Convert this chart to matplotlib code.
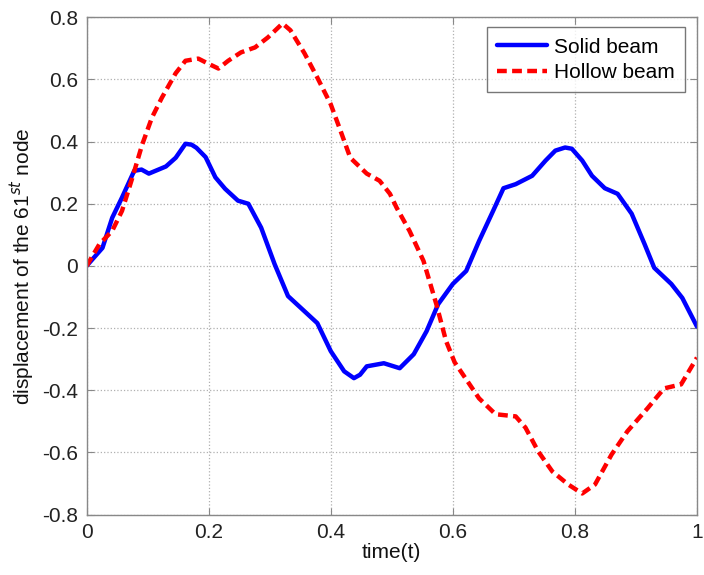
import numpy as np
import matplotlib
matplotlib.use("Agg")
import matplotlib.pyplot as plt

plt.rcParams['font.family'] = ['Liberation Sans', 'DejaVu Sans']

# values
t_solid = [0.0, 0.026, 0.042, 0.058, 0.078, 0.09, 0.102, 0.13, 0.146, 0.162, 0.172, 0.18,
           0.195, 0.211, 0.227, 0.248, 0.265, 0.286, 0.308, 0.33, 0.351, 0.378,
           0.4, 0.422, 0.438, 0.448, 0.459, 0.487, 0.513, 0.536, 0.557, 0.576, 0.6,
           0.622, 0.643, 0.666, 0.683, 0.703, 0.73, 0.752, 0.768, 0.784, 0.795,
           0.812, 0.828, 0.849, 0.87, 0.893, 0.914, 0.93, 0.958, 0.976, 1.0]
y_solid = [0.0, 0.058, 0.155, 0.22, 0.306, 0.31, 0.297, 0.32, 0.348, 0.393, 0.39, 0.38,
           0.35, 0.285, 0.248, 0.21, 0.2, 0.123, 0.006, -0.097, -0.135, -0.184,
           -0.274, -0.339, -0.361, -0.35, -0.323, -0.313, -0.329, -0.284, -0.21, -0.123, -0.058,
           -0.016, 0.08, 0.177, 0.25, 0.263, 0.29, 0.339, 0.371, 0.381, 0.377,
           0.339, 0.29, 0.25, 0.232, 0.168, 0.071, -0.006, -0.058, -0.103, -0.195]

t_hollow = [0.0, 0.021, 0.042, 0.058, 0.075, 0.091, 0.107, 0.123, 0.146, 0.162,
            0.183, 0.2, 0.216, 0.232, 0.253, 0.276, 0.297, 0.321, 0.334, 0.357,
            0.378, 0.4, 0.416, 0.432, 0.459, 0.48, 0.497, 0.508, 0.529, 0.552,
            0.573, 0.589, 0.603, 0.622, 0.643, 0.67, 0.703, 0.719, 0.74, 0.763,
            0.789, 0.812, 0.833, 0.86, 0.886, 0.919, 0.946, 0.974, 1.0]
y_hollow = [0.0, 0.07, 0.113, 0.177, 0.284, 0.39, 0.477, 0.54, 0.62, 0.66,
            0.667, 0.65, 0.635, 0.66, 0.687, 0.703, 0.735, 0.78, 0.758, 0.684,
            0.606, 0.52, 0.435, 0.348, 0.297, 0.274, 0.232, 0.187, 0.113, 0.016,
            -0.123, -0.242, -0.31, -0.365, -0.426, -0.477, -0.484, -0.52, -0.597, -0.661,
            -0.703, -0.732, -0.703, -0.607, -0.532, -0.458, -0.394, -0.381, -0.295]

fig = plt.figure(figsize=(7.04, 5.75), dpi=100)
ax = fig.add_axes([0.123, 0.105, 0.867, 0.865])

ax.plot(t_solid, y_solid, color='#0000ff', lw=3.2, label='Solid beam',
        solid_joinstyle='round', solid_capstyle='round')
ax.plot(t_hollow, y_hollow, color='#ff0000', lw=3.2, ls=(0, (2.2, 1.2)),
        label='Hollow beam')

ax.set_xlim(0, 1)
ax.set_ylim(-0.8, 0.8)
ax.set_xticks([0, 0.2, 0.4, 0.6, 0.8, 1])
ax.set_xticklabels(['0', '0.2', '0.4', '0.6', '0.8', '1'])
ax.set_yticks(np.arange(-0.8, 0.81, 0.2))
ax.set_yticklabels(['-0.8', '-0.6', '-0.4', '-0.2', '0', '0.2', '0.4', '0.6', '0.8'])
ax.grid(True, ls=':', color='#b0b0b0', lw=0.9)
ax.tick_params(direction='in', top=True, right=True, labelsize=15,
               colors='#222222', length=5, color='#888888', pad=6)
for s in ax.spines.values():
    s.set_color('#888888')
    s.set_linewidth(1.0)

ax.set_xlabel('time(t)', fontsize=15, labelpad=1, color='#111111')
ax.set_ylabel('displacement of the 61$^{st}$ node', fontsize=15, labelpad=4,
              color='#111111')

leg = ax.legend(loc='upper right', bbox_to_anchor=(0.98, 0.98), fontsize=15,
                frameon=True, fancybox=False, handlelength=2.4, borderpad=0.5,
                labelspacing=0.3, handletextpad=0.3, borderaxespad=0.0)
leg.get_frame().set_edgecolor('#555555')
leg.get_frame().set_linewidth(1.0)

fig.savefig('out.png', dpi=100)
